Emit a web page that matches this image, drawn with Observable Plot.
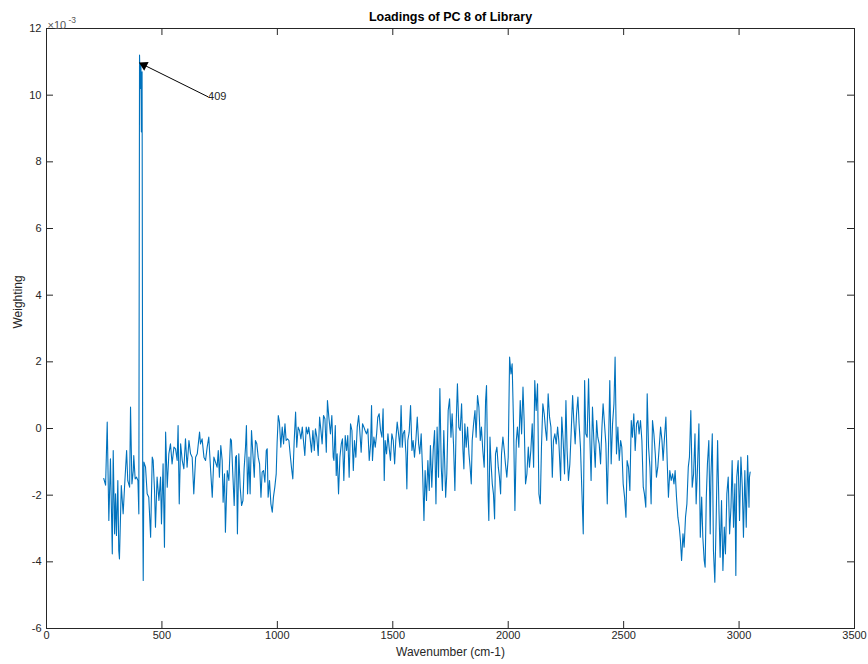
<!DOCTYPE html>
<html><head><meta charset="utf-8">
<script src="https://cdn.jsdelivr.net/npm/d3@7"></script>
<script src="https://cdn.jsdelivr.net/npm/@observablehq/plot@0.6"></script>
<style>
html,body{margin:0;padding:0;background:#fff;}
#chart svg{display:block;}
</style></head><body><div id="chart"></div>
<script>
// Wavenumber (cm-1)
const wavenumber = [
248,256,263,270,277,285,289,295,299,303,309,313,316,324,332,338,347,352,360,364,370,376,378,384,390,396,400,
403,406,409,411,414,417,419,
422,429,436,443,451,458,462,468,472,479,487,494,498,505,511,516,523,530,537,544,552,559,566,570,575,581,588,595,
602,609,617,624,631,638,646,653,663,667,674,682,689,696,703,711,718,725,
732,739,744,749,755,761,765,771,775,783,790,797,801,807,813,819,823,827,833,839,845,851,856,862,866,871,877,882,
888,894,900,905,911,917,923,929,934,940,946,952,956,960,966,972,978,983,989,995,999,1004,1009,1015,1021,1027,1033,
1038,1044,1050,1056,1061,1067,1073,1079,1084,1090,1096,1102,1108,1113,1119,1125,1131,1136,1142,1148,1154,1160,
1165,1171,1177,1183,1188,1194,1200,1206,1212,1217,1223,
1230,1236,1242,1245,1251,1255,1259,1265,1271,1277,1282,1288,1294,1300,1305,1311,1317,1323,1329,1334,1340,1346,
1352,1357,1363,1369,1375,1380,1386,1392,1398,1404,1408,1412,1418,1424,1430,1435,1441,1447,1453,1458,1463,1467,
1473,1479,1484,1490,1496,1502,1508,1513,1519,1525,1531,1536,1541,1545,1551,1557,1561,1565,1571,1577,1583,1588,
1594,1600,1606,1612,1617,1623,1629,1635,1640,1646,1652,1658,1663,1669,1675,1681,1687,1692,1698,1704,1710,1715,1721,
1729,1734,1740,1746,1752,1757,1763,1769,1775,1780,1786,1792,1798,1804,1808,1812,1818,1824,1830,1835,1840,1844,
1850,1856,1861,1867,1873,1879,1884,1890,1896,1902,1906,1910,1913,1916,1921,1925,1931,1936,1941,1945,1951,1957,
1962,1967,1971,1977,1983,1988,1994,2000,2006,2012,2017,2023,2029,2035,2040,2046,2052,2058,2064,2069,2075,2081,
2087,2092,2098,2104,2110,2115,2121,2127,2133,2139,2144,2150,2156,2162,2167,2173,2179,2185,2191,2196,2202,2208,2214,2219,
2227,2232,2238,2244,2250,2255,2261,2267,2273,2279,2284,2290,2296,2302,2307,2313,2319,2325,2331,2336,2342,2348,
2354,2359,2365,2371,2377,2383,2388,2394,2400,2406,2411,2417,2423,2429,2435,2440,2446,2452,2458,2463,2469,2475,
2481,2487,2492,2498,2504,2510,2515,2521,2527,2533,2538,2544,2550,2556,2562,2567,2573,2579,2585,2590,2596,2602,
2608,2614,2619,2625,2631,2637,2642,2648,2654,2660,2666,2671,2677,2683,2689,2694,2700,2706,2712,2718,2723,2729,2735,2741,
2746,2751,2757,2762,2768,2774,2780,2785,2791,2797,2803,2809,2814,2820,2826,2832,2838,2843,2849,2853,2858,2863,
2869,2875,2878,2884,2889,2895,2901,2907,2913,2918,2924,2930,2936,2941,2947,2953,2959,2965,2970,2976,2982,2986,
2990,2996,3002,3008,3014,3019,3025,3031,3037,3043,3045,3048
];
// Weighting (x 10^-3)
const weighting = [
-1.5,-1.7,0.19,-2.76,-0.91,-3.76,-0.66,-3.16,-1.96,-3.21,-1.56,-3.66,-3.91,-1.71,-2.56,-1.76,-0.66,-1.56,-1.76,0.64,-1.66,-1.26,-0.81,-1.51,-1.46,-1.56,-2.56,
11.2,10.2,10.95,8.9,10.7,-2.6,-4.56,
-1.01,-1.16,-1.96,-2.06,-3.26,-0.86,-0.96,-1.86,-2.96,-1.46,-2.16,-1.46,-2.86,-1.06,-3.56,-0.11,-1.76,-0.76,-0.46,-1.06,-0.56,-0.61,-0.96,0.09,-2.26,-0.46,-0.96,-1.21,
-0.31,-1.16,-0.36,-0.76,-0.86,-1.96,-0.86,-0.76,-0.11,-0.46,-0.31,-0.86,-0.96,-0.56,-0.26,-1.26,-2.06,-0.86,
-1.01,-1.16,-0.66,-1.46,-0.51,-0.96,-2.21,-1.36,-3.11,-1.26,-1.56,-0.31,-0.36,-1.36,-2.31,-0.86,-0.81,-3.16,-0.76,-1.76,-2.31,-2.16,-1.21,-0.56,0.09,-1.96,-0.86,-1.96,
-0.06,-0.76,-1.46,-0.36,-0.46,-0.86,-1.06,-2.06,-1.31,-1.26,-1.61,-0.66,-0.61,-2.06,-1.56,-2.26,-2.51,-2.06,-1.76,-1.36,-0.41,0.39,0.19,-0.56,0.04,-0.46,0.14,
-0.36,-0.31,-0.36,-0.81,-1.16,-1.51,-0.36,0.49,-0.56,0.04,-0.06,-0.31,0.04,-0.36,-0.81,0.04,-0.16,0.04,-0.31,-0.71,-0.06,-0.66,
-0.01,-0.26,-0.81,0.34,-0.01,-0.46,0.39,0.29,-0.71,0.84,0.34,
-0.16,0.39,-0.86,-0.96,0.09,-1.41,-0.76,-1.96,-0.86,-0.46,-0.31,-1.56,-0.21,-0.66,-0.21,-1.46,0.14,-0.06,-1.26,-0.36,-0.86,0.04,
0.39,-0.06,-0.71,0.14,0.04,-0.06,-0.16,-0.01,-0.96,-0.46,0.69,-0.96,-0.26,-0.56,-0.16,0.34,0.44,-0.06,-0.26,0.59,-1.56,-0.36,
-0.76,-0.16,-0.56,-0.96,-0.16,-0.36,-1.06,-0.36,0.19,-0.16,-0.56,0.69,-0.56,-0.16,-0.06,-0.76,-1.81,-0.36,-0.11,0.69,-0.66,-0.36,
-0.86,-0.36,0.34,-0.46,-0.76,-0.16,-1.26,-2.76,-1.26,-2.16,-0.96,-1.86,-0.51,-1.76,-0.66,-0.06,-2.26,0.04,-1.46,1.2,-1.16,-1.86,-0.06,
-2.06,-1.36,0.54,0.89,-0.26,0.44,-0.46,-1.86,0.24,1.34,0.04,-0.06,0.74,-0.66,-1.21,0.14,-0.56,0.04,-0.76,-1.16,-1.66,-0.36,
0.14,0.54,-0.26,0.99,0.64,-0.36,0.04,-0.66,-1.16,0.84,1.29,-0.66,-2.06,-2.76,-0.26,-0.96,-1.66,-1.96,-2.71,-0.76,-0.56,-1.16,
-1.46,-1.96,-0.76,-0.26,-0.66,-1.06,-1.46,-0.86,2.14,1.64,1.94,0.14,-2.46,-0.36,0.04,-0.56,0.84,-0.16,1.24,0.24,-1.66,-1.36,
-0.56,-1.16,-0.66,0.14,-1.16,1.44,0.54,1.34,-1.96,-2.26,-0.56,0.74,0.44,-0.06,-0.36,1.04,0.34,0.04,-1.46,-0.36,-0.16,-0.46,0.04,-0.36,
-1.56,0.34,-0.36,-1.36,0.84,-0.66,-1.56,-1.06,-0.06,0.99,0.24,-0.46,0.44,0.94,0.14,-0.56,-1.86,-3.16,1.44,-0.16,-0.26,1.49,
-0.36,-1.56,0.64,-0.36,-1.16,0.24,-0.26,-0.46,-1.06,0.04,0.74,0.14,-0.46,-2.26,-0.36,1.44,-1.06,0.14,0.74,2.14,-0.76,0.04,
-0.96,-0.36,-0.56,-1.66,-2.06,-2.66,-0.96,-1.16,-1.86,0.24,-0.26,0.44,-0.66,0.14,0.24,-0.16,0.24,-0.36,-1.76,-1.96,-2.36,1.04,
-0.56,-1.16,-2.26,0.24,-0.16,-0.76,-1.46,-1.16,-0.56,0.04,-0.36,-0.96,-0.26,0.34,-1.06,-2.06,-1.26,-1.56,-1.36,-1.66,-1.26,-2.06,-2.66,-2.96,
-3.36,-3.96,-3.16,-3.56,-2.66,-2.26,-1.16,-0.86,0.54,-1.76,-1.36,-0.16,-2.26,-1.16,0.14,-3.26,-2.06,-3.26,-3.96,-4.16,-2.06,-1.06,
-0.36,-3.16,-1.46,-0.16,-3.66,-4.61,-2.66,-0.36,-2.46,-3.86,-2.16,-4.26,-2.96,-3.76,-1.96,-1.46,-3.16,-2.36,-0.96,-2.96,-1.66,-4.41,
-1.46,-0.96,-2.76,-0.86,-1.76,-3.26,-1.26,-2.96,-0.81,-2.36,-1.46,-1.31
];
const xTicks = [0, 500, 1000, 1500, 2000, 2500, 3000, 3500];
const yTicks = [-6, -4, -2, 0, 2, 4, 6, 8, 10, 12];
const titleText = "Loadings of PC 8 of Library";
const xLabel = "Wavenumber (cm-1)";
const yLabel = "Weighting";
const exponentBase = "×10";
const exponentPower = "-3";
const peakNote = [{x: 409, y: 10.95, tx: 700, ty: 9.95, text: "409"}];

const data = wavenumber.map((w, i) => ({w, v: weighting[i]}));

const W = 868, H = 664, mL = 46, mR = 14, mT = 28, mB = 36;
const plotH = H - mT - mB, plotW = W - mL - mR, tk = 7;
const ink = "#262626";

const chart = Plot.plot({
  width: W, height: H,
  marginLeft: mL, marginRight: mR, marginTop: mT, marginBottom: mB,
  style: {fontFamily: "'Liberation Sans', Arial, Helvetica, sans-serif", fontSize: "11px", color: ink, background: "#fff"},
  x: {domain: [0, 3500]},
  y: {domain: [-6, 12]},
  marks: [
    Plot.axisX(xTicks, {tickSize: 0, tickPadding: 3, label: null, tickFormat: d => String(d), fill: ink}),
    Plot.axisY(yTicks, {tickSize: 0, tickPadding: 5, label: null, tickFormat: d => String(d), fill: ink}),
    Plot.tickX(xTicks, {x: d => d, insetTop: plotH - tk, stroke: ink}),
    Plot.tickX(xTicks, {x: d => d, insetBottom: plotH - tk, stroke: ink}),
    Plot.tickY(yTicks, {y: d => d, insetRight: plotW - tk, stroke: ink}),
    Plot.tickY(yTicks, {y: d => d, insetLeft: plotW - tk, stroke: ink}),
    Plot.line(data, {x: "w", y: "v", stroke: "#0072BD", strokeWidth: 1.1}),
    Plot.link(peakNote, {x1: "tx", y1: "ty", x2: "x", y2: "y", stroke: "#000", strokeWidth: 1}),
    Plot.dot(peakNote, {x: "x", y: "y", symbol: "triangle", r: 3.6, fill: "#000", stroke: "none", rotate: -63, dx: 3, dy: 1.6}),
    Plot.text(peakNote, {x: "tx", y: "ty", text: "text", textAnchor: "start", dx: 0, fontSize: 11, fill: ink}),
    Plot.frame({stroke: ink}),
    Plot.text([titleText], {frameAnchor: "top", dy: -16, fontWeight: "bold", fontSize: 12.5, fill: "#000"}),
    Plot.text([exponentBase], {frameAnchor: "top-left", dx: 1, dy: -7, textAnchor: "start", fontSize: 11, fill: "#555"}),
    Plot.text([exponentPower], {frameAnchor: "top-left", dx: 22, dy: -12, textAnchor: "start", fontSize: 8.5, fill: "#555"}),
    Plot.text([xLabel], {frameAnchor: "bottom", dy: 27, fontSize: 12, fill: ink}),
    Plot.text([yLabel], {frameAnchor: "left", dx: -28, rotate: -90, fontSize: 12, fill: ink})
  ]
});
document.getElementById("chart").append(chart);
</script></body></html>
